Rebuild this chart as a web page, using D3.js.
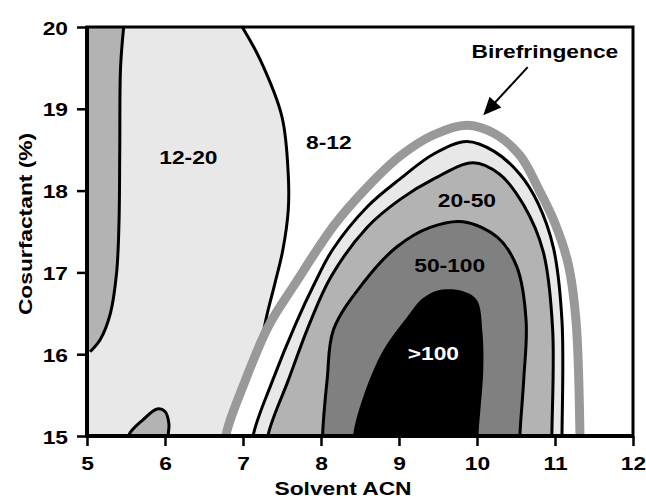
<!DOCTYPE html>
<html>
<head>
<meta charset="utf-8">
<script src="https://cdn.jsdelivr.net/npm/d3@7"></script>
<style>
  body { margin: 0; background: #fff; }
  text { font-family: "Liberation Sans", Arial, sans-serif; font-weight: bold; }
</style>
</head>
<body>
<svg id="chart"></svg>
<script>
// tick values
var xTicks = [5, 6, 7, 8, 9, 10, 11, 12];
var yTicks = [15, 16, 17, 18, 19, 20];

// contour lines, [solvent ACN, cosurfactant %]
var leftStrip = [[5.47, 20.0], [5.43, 19.5], [5.42, 18.5], [5.41, 17.6], [5.38, 17.0], [5.3, 16.5], [5.17, 16.18], [5.04, 16.03]];
var bump = [[5.53, 15.0], [5.72, 15.2], [5.9, 15.33], [6.0, 15.3], [6.05, 15.15], [6.04, 15.0]];
var edge1220 = [[6.99, 20.0], [7.22, 19.6], [7.5, 18.9], [7.58, 18.2], [7.58, 17.76], [7.51, 17.27], [7.41, 16.87], [7.3, 16.45], [7.25, 16.2]];
var biref = [[6.78, 15.0], [7.03, 15.68], [7.33, 16.35], [7.66, 16.85], [8.17, 17.58], [8.59, 18.04], [9.01, 18.42], [9.44, 18.68], [9.87, 18.8], [10.22, 18.7], [10.55, 18.43], [10.8, 18.0], [11.0, 17.6], [11.17, 17.1], [11.27, 16.4], [11.32, 15.0]];
var lineA = [[7.13, 15.0], [7.38, 15.68], [7.68, 16.38], [7.92, 16.87], [8.15, 17.28], [8.59, 17.8], [9.01, 18.14], [9.45, 18.45], [9.87, 18.6], [10.22, 18.48], [10.55, 18.2], [10.78, 17.85], [10.98, 17.3], [11.09, 16.4], [11.09, 15.0]];
var lineB = [[7.32, 15.0], [7.58, 15.68], [7.86, 16.39], [8.13, 16.95], [8.59, 17.55], [9.01, 17.89], [9.44, 18.14], [9.95, 18.34], [10.29, 18.2], [10.6, 17.82], [10.85, 17.25], [10.97, 16.3], [10.96, 15.0]];
var lineC = [[8.02, 15.0], [8.08, 15.7], [8.16, 16.3], [8.54, 16.87], [8.97, 17.31], [9.4, 17.55], [9.82, 17.62], [10.26, 17.43], [10.51, 17.07], [10.63, 16.4], [10.6, 15.7], [10.55, 15.0]];
var core = [[8.41, 15.0], [8.55, 15.5], [8.8, 16.05], [9.1, 16.45], [9.3, 16.68], [9.5, 16.78], [9.82, 16.77], [10.0, 16.66], [10.07, 16.26], [10.08, 15.8], [10.02, 15.0]];

var labels = [
  {text: "12-20", x: 6.3, y: 18.41, color: "#000"},
  {text: "8-12", x: 8.1, y: 18.6, color: "#000"},
  {text: "20-50", x: 9.87, y: 17.88, color: "#000"},
  {text: "50-100", x: 9.65, y: 17.09, color: "#000"},
  {text: ">100", x: 9.44, y: 16.01, color: "#fff"}
];

var width = 646, height = 500;
var margin = {top: 27, right: 13, bottom: 64, left: 87};
var w = width - margin.left - margin.right;
var h = height - margin.top - margin.bottom;
var stretch = 1.2; // the original lettering is wider than Arial

var svg = d3.select("#chart").attr("width", width).attr("height", height);

var x = d3.scaleLinear().domain([5, 12]).range([0, w]);
var y = d3.scaleLinear().domain([15, 20]).range([h, 0]);

var g = svg.append("g").attr("transform", "translate(" + margin.left + "," + margin.top + ")");

g.append("clipPath").attr("id", "plot")
  .append("rect").attr("width", w).attr("height", h);

var plot = g.append("g").attr("clip-path", "url(#plot)");

var line = d3.line()
  .x(function(d) { return x(d[0]); })
  .y(function(d) { return y(d[1]); })
  .curve(d3.curveCatmullRom.alpha(0.5));

// close an arch below the bottom axis so the closing edge is clipped off
function arch(pts) {
  var p = pts.slice();
  p.unshift([pts[0][0], 14.7]);
  p.push([pts[pts.length - 1][0], 14.7]);
  return line(p);
}

function wideText(sel, px, py, size, anchor, rot) {
  return sel.append("text")
    .attr("transform", "translate(" + px + "," + py + ")" + (rot ? " rotate(" + rot + ")" : "") + " scale(" + stretch + ",1)")
    .attr("text-anchor", anchor)
    .attr("font-size", size);
}

plot.append("rect").attr("width", w).attr("height", h).attr("fill", "#fff");

// 12-20 region: left of its edge line and of the birefringence band
var bandLeft = biref.filter(function(d) { return d[1] <= 16.2 && d[0] < 8; }).reverse();
var region = edge1220.concat(bandLeft);
plot.append("path")
  .attr("d", line(region) + "L" + x(6.6) + "," + y(14.7) + "L" + x(4.8) + "," + y(14.7) +
       "L" + x(4.8) + "," + y(20.3) + "L" + x(6.99) + "," + y(20.3) + "Z")
  .attr("fill", "#e8e8e8");

plot.append("path")
  .attr("d", line(edge1220))
  .attr("fill", "none").attr("stroke", "#000").attr("stroke-width", 3);

// left strip
plot.append("path")
  .attr("d", line(leftStrip) + "L" + x(4.8) + "," + y(16.0) + "L" + x(4.8) + "," + y(20.3) + "L" + x(5.47) + "," + y(20.3) + "Z")
  .attr("fill", "#b3b3b3");
plot.append("path")
  .attr("d", line(leftStrip))
  .attr("fill", "none").attr("stroke", "#000").attr("stroke-width", 3);

plot.append("path")
  .attr("d", arch(bump))
  .attr("fill", "#b3b3b3").attr("stroke", "#000").attr("stroke-width", 3);

// nested arch
plot.append("path").attr("d", arch(biref))
  .attr("fill", "#fff").attr("stroke", "#999").attr("stroke-width", 9);
plot.append("path").attr("d", arch(lineA))
  .attr("fill", "#e8e8e8").attr("stroke", "#000").attr("stroke-width", 3);
plot.append("path").attr("d", arch(lineB))
  .attr("fill", "#b3b3b3").attr("stroke", "#000").attr("stroke-width", 3);
plot.append("path").attr("d", arch(lineC))
  .attr("fill", "#808080").attr("stroke", "#000").attr("stroke-width", 3);
plot.append("path").attr("d", arch(core))
  .attr("fill", "#000");

labels.forEach(function(d) {
  wideText(g, x(d.x), y(d.y) + 7, 19, "middle")
    .attr("fill", d.color)
    .text(d.text);
});

// frame
g.append("rect").attr("width", w).attr("height", h)
  .attr("fill", "none").attr("stroke", "#000").attr("stroke-width", 3);
g.append("line").attr("x1", 0).attr("x2", 0).attr("y1", -1).attr("y2", h + 2)
  .attr("stroke", "#000").attr("stroke-width", 4);
g.append("line").attr("x1", -2).attr("x2", w + 1).attr("y1", h).attr("y2", h)
  .attr("stroke", "#000").attr("stroke-width", 4);

// axes
var xAxis = g.append("g").attr("transform", "translate(0," + h + ")")
  .call(d3.axisBottom(x).tickValues(xTicks).tickSize(10).tickSizeOuter(0).tickFormat(d3.format("d")));
var yAxis = g.append("g")
  .call(d3.axisLeft(y).tickValues(yTicks).tickSize(10).tickSizeOuter(0).tickFormat(d3.format("d")));
[xAxis, yAxis].forEach(function(a) {
  a.select(".domain").remove();
  a.selectAll("line").attr("stroke", "#000").attr("stroke-width", 2.5);
  a.selectAll("text").attr("font-size", 19).attr("fill", "#000")
    .attr("font-family", "'Liberation Sans', Arial, sans-serif").attr("font-weight", "bold")
    .attr("x", null).attr("y", null).attr("dy", null);
});
xAxis.selectAll("text").attr("transform", "translate(0,34) scale(" + stretch + ",1)");
yAxis.selectAll("text").attr("transform", "translate(-19,7) scale(" + stretch + ",1)");

wideText(svg, 343, 495, 19, "middle").text("Solvent ACN");
wideText(svg, 32, 224, 19, "middle", -90).text("Cosurfactant (%)");

// birefringence annotation
wideText(g, x(10.87), y(19.62), 19, "middle").text("Birefringence");

var ax0 = x(10.65), ay0 = y(19.51), ax1 = x(10.08), ay1 = y(18.92);
var ang = Math.atan2(ay1 - ay0, ax1 - ax0);
g.append("line")
  .attr("x1", ax0).attr("y1", ay0)
  .attr("x2", ax1 - 12 * Math.cos(ang)).attr("y2", ay1 - 12 * Math.sin(ang))
  .attr("stroke", "#000").attr("stroke-width", 2);
var hl = 18, hw = 8;
var bx = ax1 - hl * Math.cos(ang), by = ay1 - hl * Math.sin(ang);
g.append("path")
  .attr("d", "M" + ax1 + "," + ay1 +
    "L" + (bx + hw * Math.sin(ang)) + "," + (by - hw * Math.cos(ang)) +
    "L" + (bx - hw * Math.sin(ang)) + "," + (by + hw * Math.cos(ang)) + "Z")
  .attr("fill", "#000");
</script>
</body>
</html>
